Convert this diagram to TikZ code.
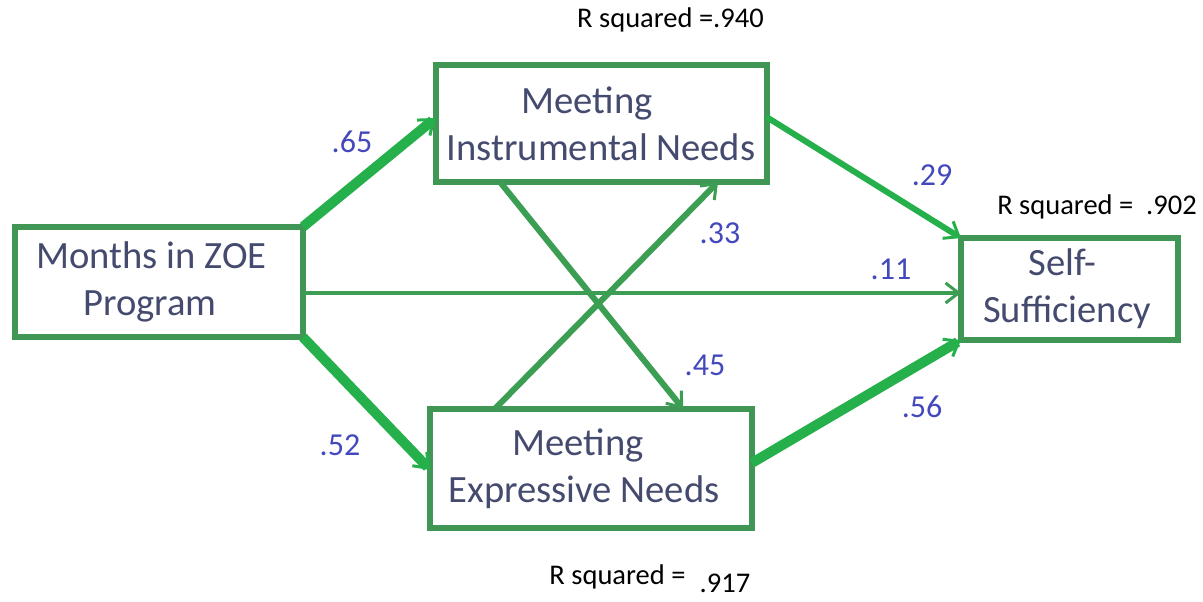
\documentclass[tikz,border=0pt]{standalone}
\usepackage{fontspec}
\setmainfont{Carlito}
\usetikzlibrary{arrows.meta,calc}
\definecolor{boxgreen}{HTML}{3F9655}
\definecolor{brightgreen}{HTML}{25B04B}
\definecolor{midgreen}{HTML}{3C9E52}
\definecolor{txtcol}{HTML}{454B6E}
\definecolor{numcol}{HTML}{4349BC}
\tikzset{
  box/.style={draw=boxgreen, line width=6pt, inner sep=0pt, outer sep=0pt, align=center,
    text=txtcol, font=\fontsize{38.6}{47}\selectfont},
  num/.style={text=numcol, font=\fontsize{32}{36}\selectfont, inner sep=0pt},
  rsq/.style={text=black, font=\fontsize{28.5}{32}\selectfont, inner sep=0pt},
  tip/.style={-{Straight Barb[length=13pt,width=20pt,line width=3pt]}},
  thickarrow/.style={tip, draw=brightgreen, line width=10pt},
  medarrow/.style={tip, draw=brightgreen, line width=6pt},
  crossarrow/.style={tip, draw=midgreen, line width=6pt},
  thinarrow/.style={tip, draw=midgreen, line width=3.2pt},
}
\begin{document}
\begin{tikzpicture}[x=1pt,y=-1pt]
\useasboundingbox (0,0) rectangle (1203,602);
\fill[white] (0,0) rectangle (1203,602);

\node[box, minimum width=288pt, minimum height=110.5pt] (months) at (159,282)
  {Months in ZOE\hspace*{15pt}\\Program\hspace*{18pt}};
\node[box, minimum width=331pt, minimum height=117pt] (inst) at (601,123.5)
  {Meeting\hspace*{28pt}\\Instrumental Needs};
\node[box, minimum width=321.5pt, minimum height=119pt] (expr) at (591,468.5)
  {Meeting\hspace*{26pt}\\Expressive Needs\hspace*{14pt}};
\node[box, minimum width=217pt, minimum height=102pt] (self) at (1069.5,289)
  {Self-\hspace*{14pt}\\Sufficiency\hspace*{5pt}};

% connectors
\draw[thickarrow] (months.north east) -- ($(inst.west)+(0,-5.5)$);
\draw[thickarrow] (months.south east) -- ($(expr.west)+(0,1.5)$);
\draw[thinarrow] ($(months.east)+(0,11)$) -- ($(self.west)+(0,4)$);
\draw[medarrow] ($(inst.east)+(0,-6.5)$) -- (self.north west);
\draw[thickarrow] ($(expr.east)+(0,-5.5)$) -- (self.south west);
\draw[crossarrow] ($(inst.south west)+(64.5,0)$) -- ($(expr.north west)+(253,0)$);
\draw[crossarrow] ($(expr.north west)+(64.5,0)$) -- ($(inst.south west)+(282.5,0)$);

% coefficients
\node[num] (n65) at (352,142) {.65};
\node[num] (n29) at (932,175) {.29};
\node[num] (n33) at (720,233) {.33};
\node[num] (n11) at (891,269) {.11};
\node[num] (n45) at (705,365) {.45};
\node[num] (n56) at (922,407) {.56};
\node[num] (n52) at (340,445) {.52};

% R squared
\node[rsq] (r1) at (670.5,20) {R squared =.940};
\node[rsq] (r2) at (1097,207) {R squared =\ \ .902};
\node[rsq] (r3a) at (617.5,577) {R squared =};
\node[rsq] (r3b) at (725,583) {.917};
\end{tikzpicture}
\end{document}
